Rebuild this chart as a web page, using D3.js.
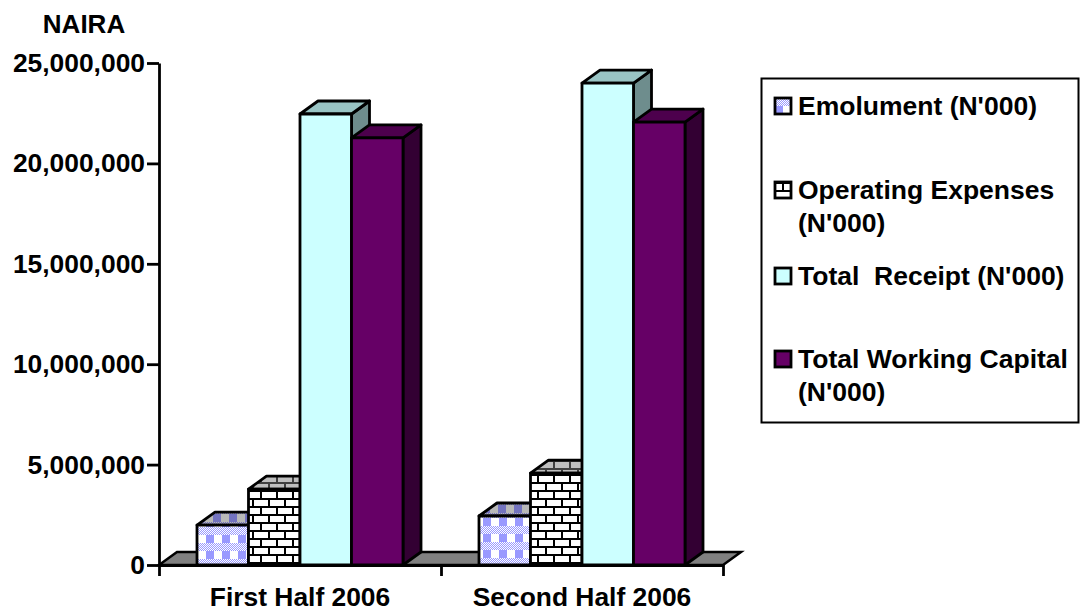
<!DOCTYPE html>
<html>
<head>
<meta charset="utf-8">
<script src="https://cdn.jsdelivr.net/npm/d3@7"></script>
<style>
  html, body { margin: 0; padding: 0; background: #fff; }
  text { font-family: "Liberation Sans", Arial, sans-serif; font-weight: bold; fill: #000; }
  .axis text { font-size: 26.4px; }
  .axis path, .axis line { stroke: #000; stroke-width: 2.8px; }
  .legend text { font-size: 26.5px; }
</style>
</head>
<body>
<svg id="chart" width="1081" height="612"></svg>
<script>
const categories = ["First Half 2006", "Second Half 2006"];
const seriesNames = ["Emolument", "Operating Expenses", "Total Receipt", "Total Working Capital"];
const emolument = [1990000, 2440000];
const operating = [3780000, 4580000];
const receipt = [22460000, 24000000];
const workingCapital = [21270000, 22060000];
const yTicks = [0, 5000000, 10000000, 15000000, 20000000, 25000000];
const legendLines = [
    ["Emolument (N'000)"],
    ["Operating Expenses", "(N'000)"],
    ["Total  Receipt (N'000)"],
    ["Total Working Capital", "(N'000)"]
];

const allSeries = [emolument, operating, receipt, workingCapital];

const svg = d3.select("#chart");
const defs = svg.append("defs");

const depthX = 18, depthY = -13;
const x0 = d3.scaleBand().domain(categories).range([159, 723]);
const x1 = d3.scaleBand().domain(seriesNames).range([38, 244]);
const y = d3.scaleLinear().domain([0, 25000000]).range([565, 63]);

// 16px tile: lavender/white squares, then a row of fine dither
function plaid(id, light, dark, tx, ty) {
    const p = defs.append("pattern").attr("id", id)
        .attr("patternUnits", "userSpaceOnUse").attr("width", 16).attr("height", 16)
        .attr("patternTransform", "translate(" + tx + "," + ty + ")");
    p.append("rect").attr("width", 16).attr("height", 16).attr("fill", light);
    for (let j = 8; j < 16; j++) {
        for (let i = 0; i < 16; i++) {
            if ((i + j) % 2 == 0) {
                p.append("rect").attr("x", i).attr("y", j).attr("width", 1).attr("height", 1).attr("fill", dark);
            }
        }
    }
    p.append("rect").attr("width", 8).attr("height", 8).attr("fill", dark);
}

function brick(id, fill, line, tx, ty) {
    const p = defs.append("pattern").attr("id", id)
        .attr("patternUnits", "userSpaceOnUse").attr("width", 16).attr("height", 16)
        .attr("patternTransform", "translate(" + tx + "," + ty + ")");
    p.append("rect").attr("width", 16).attr("height", 16).attr("fill", fill);
    p.append("rect").attr("width", 16).attr("height", 2).attr("fill", line);
    p.append("rect").attr("y", 8).attr("width", 16).attr("height", 2).attr("fill", line);
    p.append("rect").attr("x", 3).attr("width", 2).attr("height", 8).attr("fill", line);
    p.append("rect").attr("x", 11).attr("y", 8).attr("width", 2).attr("height", 8).attr("fill", line);
}

plaid("emolFront1", "#fff", "#9999ff", 206, 535);
plaid("emolFront2", "#fff", "#9999ff", 483, 518);
plaid("emolTop1", "#b8b8b8", "#7373bf", 213, 514);
plaid("emolTop2", "#b8b8b8", "#7373bf", 498, 505);
plaid("emolLegend", "#fff", "#9999ff", 775, 106);
brick("brickFront1", "#fff", "#000", 249, 482);
brick("brickFront2", "#fff", "#000", 526, 466);
brick("brickTop1", "#bfbfbf", "#404040", 249, 482);
brick("brickTop2", "#bfbfbf", "#404040", 526, 468);
brick("brickLegend", "#fff", "#000", 779, 182);

const fills = [
    { front: ["url(#emolFront1)", "url(#emolFront2)"], top: ["url(#emolTop1)", "url(#emolTop2)"], side: "#6f6f9f" },
    { front: ["url(#brickFront1)", "url(#brickFront2)"], top: ["url(#brickTop1)", "url(#brickTop2)"], side: "#808080" },
    { front: ["#ccffff", "#ccffff"], top: ["#99c4c4", "#99c4c4"], side: "#6e8d8d" },
    { front: ["#660066", "#660066"], top: ["#4d004d", "#4d004d"], side: "#330033" }
];

// floor
svg.append("path")
    .attr("d", d3.line()([[x0.range()[0], y(0)], [x0.range()[0] + depthX, y(0) + depthY], [x0.range()[1] + depthX, y(0) + depthY], [x0.range()[1], y(0)]]) + "Z")
    .attr("fill", "#808080").attr("stroke", "#000").attr("stroke-width", 2.5);

// axes
const yAxis = d3.axisLeft(y).tickValues(yTicks).tickFormat(d3.format(",")).tickSize(12).tickSizeOuter(0).tickPadding(2);
svg.append("g").attr("class", "axis").attr("transform", "translate(159,0)").call(yAxis);

const boundary = d3.scaleLinear().domain([0, categories.length]).range(x0.range());
const tickAxis = d3.axisBottom(boundary).tickValues(d3.range(categories.length + 1)).tickFormat("").tickSize(11).tickSizeOuter(0);
svg.append("g").attr("class", "axis").attr("transform", "translate(0,565)").call(tickAxis);

const labelAxis = d3.axisBottom(x0).tickSize(0).tickPadding(22);
const labelG = svg.append("g").attr("class", "axis").attr("transform", "translate(0,565)").call(labelAxis);
labelG.select(".domain").remove();

svg.append("text").attr("x", 84).attr("y", 33).attr("text-anchor", "middle").style("font-size", "26px").text("NAIRA");

// bars, left to right so each one covers the side of the previous
categories.forEach(function(cat, c) {
    seriesNames.forEach(function(name, s) {
        const left = x0(cat) + x1(name);
        const right = left + x1.bandwidth();
        const top = y(allSeries[s][c]);
        const base = y(0);
        const g = svg.append("g").attr("stroke", "#000").attr("stroke-width", 2.8).attr("stroke-linejoin", "round");
        g.append("path").attr("fill", fills[s].side)
            .attr("d", d3.line()([[right, top], [right + depthX, top + depthY], [right + depthX, base + depthY], [right, base]]) + "Z");
        g.append("path").attr("fill", fills[s].top[c])
            .attr("d", d3.line()([[left, top], [left + depthX, top + depthY], [right + depthX, top + depthY], [right, top]]) + "Z");
        g.append("rect").attr("x", left).attr("y", top).attr("width", right - left).attr("height", base - top)
            .attr("fill", fills[s].front[c]);
    });
});

// legend
const legend = svg.append("g").attr("class", "legend");
legend.append("rect").attr("x", 761.5).attr("y", 78.5).attr("width", 317).attr("height", 344)
    .attr("fill", "#fff").attr("stroke", "#000").attr("stroke-width", 2);
const legendFills = ["url(#emolLegend)", "url(#brickLegend)", "#ccffff", "#660066"];
const legendBase = [115, 199, 285, 368];
legendLines.forEach(function(lines, i) {
    legend.append("rect").attr("x", 775).attr("y", legendBase[i] - 17).attr("width", 16).attr("height", 16)
        .attr("fill", legendFills[i]).attr("stroke", "#000").attr("stroke-width", 2.8);
    lines.forEach(function(line, k) {
        legend.append("text").attr("x", 798).attr("y", legendBase[i] + k * 33)
            .style("white-space", "pre").text(line);
    });
});
</script>
</body>
</html>
